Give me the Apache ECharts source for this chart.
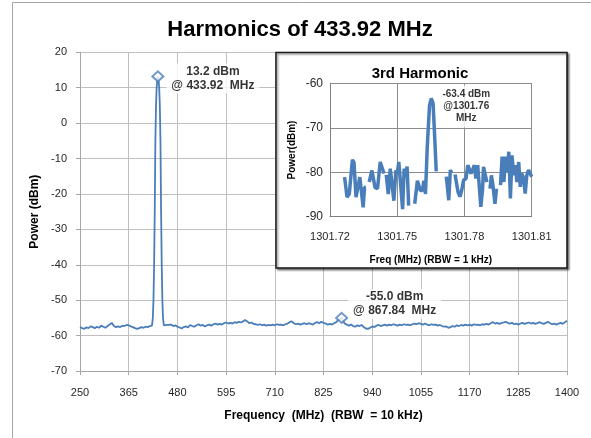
<!DOCTYPE html>
<html>
<head>
<meta charset="utf-8">
<script src="https://cdn.jsdelivr.net/npm/echarts@6/dist/echarts.min.js"></script>
<style>
html,body{margin:0;padding:0;background:#fff;}
#c{width:591px;height:438px;}
</style>
</head>
<body>
<div id="c"></div>
<script>
// ---- Main spectrum (250 - 1400 MHz, RBW 10 kHz) ----
const mainFreq = [250,255,260,265,270,275,280,285,290,295,300,305,310,315,320,325,330,335,340,345,350,355,360,365,370,375,380,385,390,395,400,405,410,415,420,422,423.5,425,426.5,428,429.5,431,432.5,433.92,435.5,437,438.5,440,441.5,443,444.5,446,448,452,456,460,465,470,475,480,485,490,495,500,505,510,515,520,525,530,535,540,545,550,555,560,565,570,575,580,585,590,595,600,605,610,615,620,625,630,635,640,645,650,655,660,665,670,675,680,685,690,695,700,705,710,715,720,725,730,735,740,745,750,755,760,765,770,775,780,785,790,795,800,805,810,815,820,825,830,835,840,845,850,855,860,864,867.84,871,875,880,885,890,895,900,905,910,915,920,925,930,935,940,945,950,955,960,965,970,975,980,985,990,995,1000,1005,1010,1015,1020,1025,1030,1035,1040,1045,1050,1055,1060,1065,1070,1075,1080,1085,1090,1095,1100,1105,1110,1115,1120,1125,1130,1135,1140,1145,1150,1155,1160,1165,1170,1175,1180,1185,1190,1195,1200,1205,1210,1215,1220,1225,1230,1235,1240,1245,1250,1255,1260,1265,1270,1275,1280,1285,1290,1295,1300,1305,1310,1315,1320,1325,1330,1335,1340,1345,1350,1355,1360,1365,1370,1375,1380,1385,1390,1395,1400];
const mainPower = [-57.6,-57.9,-58.1,-57.7,-57.9,-57.4,-57.6,-57.9,-57.5,-57.8,-57.2,-57.5,-57.8,-57.3,-56.9,-56.4,-57.3,-57.6,-57.4,-57.6,-57.2,-57.3,-57.0,-57.1,-57.4,-57.6,-57.9,-58.1,-57.9,-57.6,-57.8,-57.5,-57.6,-57.3,-57.2,-55,-50,-40,-25,-5,5,10,12.5,13.2,12.5,10,5,-5,-25,-40,-50,-55,-57.1,-57.4,-57.0,-56.6,-56.9,-57.3,-57.1,-57.5,-57.7,-58.0,-57.6,-57.4,-57.7,-57.0,-57.3,-57.5,-57.1,-56.8,-57.2,-57.0,-57.4,-57.1,-56.9,-57.2,-56.8,-56.6,-56.9,-56.7,-56.9,-56.5,-56.3,-56.6,-56.4,-56.6,-56.2,-56.4,-56.1,-56.3,-56.0,-55.6,-56.0,-56.5,-56.3,-56.7,-56.8,-57.0,-56.8,-57.1,-56.9,-57.2,-57.0,-57.1,-56.9,-57.1,-56.8,-57.0,-56.9,-57.1,-56.8,-56.6,-56.2,-56.0,-56.5,-56.8,-56.6,-56.9,-56.7,-56.5,-56.8,-56.5,-56.7,-56.9,-56.4,-56.2,-56.5,-56.1,-56.4,-56.6,-56.9,-56.7,-56.9,-56.5,-56.2,-55.6,-55.2,-55.0,-55.8,-56.6,-56.9,-57.2,-56.9,-57.3,-57.5,-57.1,-57.3,-57.0,-57.6,-58.0,-58.1,-57.8,-57.4,-57.6,-57.2,-57.0,-57.3,-57.1,-56.9,-57.2,-56.9,-57.1,-56.8,-57.0,-57.2,-56.9,-57.1,-56.8,-57.0,-56.9,-57.1,-56.8,-56.6,-56.8,-56.5,-56.7,-56.9,-56.6,-56.9,-57.1,-56.8,-57.0,-56.9,-57.2,-57.0,-57.3,-57.5,-57.4,-57.8,-57.6,-57.3,-57.5,-57.1,-57.3,-57.0,-57.2,-56.9,-57.1,-56.9,-57.2,-56.8,-57.0,-56.9,-57.1,-56.8,-56.9,-56.7,-56.9,-56.5,-56.2,-56.6,-56.4,-56.7,-56.5,-56.3,-56.1,-56.4,-56.6,-56.4,-56.8,-56.6,-56.9,-56.6,-56.4,-56.7,-56.5,-56.3,-56.6,-56.4,-56.7,-56.5,-56.2,-56.5,-56.7,-56.4,-56.1,-56.5,-56.8,-56.6,-56.9,-56.6,-56.4,-56.7,-56.2,-55.8];

// fundamental and 2nd harmonic markers
const markerFreq = [433.92, 867.84];
const markerPower = [13.2, -55.0];

// main axis ticks
const mainXTicks = [250,365,480,595,710,825,940,1055,1170,1285,1400];
const mainYTicks = [-70,-60,-50,-40,-30,-20,-10,0,10,20];

// ---- Inset: 3rd harmonic (RBW 1 kHz) ----
const insetFreq = [1301.7265,1301.7276,1301.7286,1301.7300,1301.7307,1301.7316,1301.7324,1301.7333,1301.7340,1301.7348,1301.7354,1301.7360,1301.7368,
  1301.7375,1301.7387,1301.7394,1301.7401,1301.7412,1301.7424,1301.7431,1301.7441,1301.7446,
  1301.7451,1301.7460,1301.7469,1301.7477,1301.7485,1301.7494,1301.7500,1301.7507,1301.7515,1301.7524,1301.7531,1301.7537,1301.7544,1301.7551,1301.7565,
  1301.7578,1301.7590,1301.7597,1301.7603,1301.7612,1301.7619,1301.7626,1301.7634,1301.7644,1301.7652,1301.7660,1301.7667,1301.7674,1301.7695,
  1301.7719,1301.7730,1301.7737,1301.7743,1301.7750,
  1301.7758,1301.7771,1301.7780,1301.7788,1301.7796,1301.7807,1301.7815,1301.7822,1301.7829,1301.7836,1301.7844,1301.7851,1301.7859,1301.7866,1301.7873,1301.7881,1301.7885,1301.7892,1301.7900,1301.7907,
  1301.7914,1301.7920,1301.7927,1301.7936,1301.7943,1301.7952,
  1301.7961,1301.7968,1301.7976,1301.7983,1301.7990,1301.7998,1301.8005,1301.8012,1301.8020,1301.8027,1301.8034,1301.8042,1301.8049,1301.8056,1301.8064,1301.8071,1301.8078,1301.8086,1301.8093,1301.8100];
const insetPower = [-81.1,-85.6,-84.9,-77.2,-77.8,-85.6,-86.0,-81.1,-81.5,-87.9,-83.4,-83.4,null,
  -82.2,-79.6,-79.2,-83.4,-83.7,-77.7,-77.8,-80.3,null,
  -80.6,-84.9,-79.2,-79.6,-86.4,-79.6,-80.3,-77.7,-78.0,-88.3,-79.2,-81.1,-78.7,-87.5,null,
  -87.1,-81.9,-81.8,-84.1,-84.1,-81.9,-84.9,-74.3,-65.0,-63.4,-64.5,-72.0,-79.8,null,
  -81.0,-86.3,-79.5,-80.2,null,
  -80.5,-84.4,-85.5,-84.0,-81.8,-81.4,-78.4,-78.8,-80.3,-79.5,-78.4,-81.4,-78.4,-78.0,-87.8,-83.7,-78.8,-79.2,-82.2,null,
  -83.7,-80.7,-82.9,-87.1,-83.7,null,
  -82.9,-76.5,-82.2,-76.5,-79.9,-75.4,-85.9,-76.2,-80.7,-78.4,-82.2,-77.7,-83.3,-80.3,-81.4,-84.8,-80.7,-79.5,-79.9,-81.0];

const insetPeakFreq = 1301.7652;
const insetPeakPower = -63.4;
const insetPeakLabelFreq = '1301.76';

const insetXTicks = [1301.72,1301.75,1301.78,1301.81];
const insetYTicks = [-90,-80,-70,-60];

// ---- build chart ----
const FONT = '"Liberation Sans", Arial, sans-serif';
const chart = echarts.init(document.getElementById('c'), null, {renderer: 'canvas'});

const markerLabelOffsets = [[55, 2], [53, -14]];

const option = {
  animation: false,
  backgroundColor: '#fff',
  textStyle: {fontFamily: FONT},
  graphic: [
    {type: 'rect', z: 1, silent: true,
     shape: {x: 12.5, y: 2.5, width: 620, height: 520},
     style: {fill: 'none', stroke: '#a6a6a6', lineWidth: 1}},
    {type: 'text', z: 1, silent: true, x: 300, y: 30,
     style: {text: 'Harmonics of 433.92 MHz', font: 'bold 22px ' + FONT, fill: '#000',
             textAlign: 'center', textVerticalAlign: 'middle'}},
    {type: 'rect', z: 20, silent: true,
     shape: {x: 276, y: 52.5, width: 291, height: 215.5},
     style: {fill: '#fff', stroke: '#1a1a1a', lineWidth: 1.5,
             shadowBlur: 2, shadowOffsetX: 1.5, shadowOffsetY: 1.5, shadowColor: 'rgba(0,0,0,0.45)'}},
    {type: 'text', z: 21, silent: true, x: 420, y: 74,
     style: {text: '3rd Harmonic', font: 'bold 15px ' + FONT, fill: '#000',
             textAlign: 'center', textVerticalAlign: 'middle'}}
  ],
  grid: [
    {left: 80, top: 52.3, width: 487, height: 318.7},
    {left: 330, top: 83.3, width: 201.7, height: 133.4}
  ],
  xAxis: [
    {type: 'value', gridIndex: 0, min: 250, max: 1400, interval: 115, z: 0,
     name: 'Frequency  (MHz)  (RBW  = 10 kHz)', nameLocation: 'middle', nameGap: 39,
     nameTextStyle: {fontSize: 12, fontWeight: 'bold', color: '#000', fontFamily: FONT},
     axisLine: {show: true, onZero: false, lineStyle: {color: '#a6a6a6', width: 1}},
     axisTick: {show: true, length: 4, inside: false, customValues: mainXTicks, lineStyle: {color: '#a6a6a6'}},
     axisLabel: {fontSize: 11, color: '#262626', margin: 16, customValues: mainXTicks, fontFamily: FONT,
                 formatter: v => String(v), showMinLabel: true, showMaxLabel: true},
     splitLine: {show: true, lineStyle: {color: '#bfbfbf', width: 1}}},
    {type: 'value', gridIndex: 1, min: 1301.72, max: 1301.81, interval: 0.03, z: 22,
     name: 'Freq (MHz) (RBW = 1 kHz)', nameLocation: 'middle', nameGap: 39,
     nameTextStyle: {fontSize: 10, fontWeight: 'bold', color: '#000', fontFamily: FONT},
     axisLine: {show: true, onZero: false, lineStyle: {color: '#7f7f7f', width: 1}},
     axisTick: {show: false, customValues: insetXTicks},
     axisLabel: {fontSize: 11, color: '#262626', margin: 15, customValues: insetXTicks, fontFamily: FONT,
                 formatter: v => v.toFixed(2), showMinLabel: true, showMaxLabel: true},
     splitLine: {show: true, lineStyle: {color: '#8c8c8c', width: 1}}}
  ],
  yAxis: [
    {type: 'value', gridIndex: 0, min: -70, max: 20, interval: 10, z: 0,
     name: 'Power (dBm)', nameLocation: 'middle', nameGap: 39,
     nameTextStyle: {fontSize: 12, fontWeight: 'bold', color: '#000', fontFamily: FONT},
     axisLine: {show: true, onZero: false, lineStyle: {color: '#a6a6a6', width: 1}},
     axisTick: {show: true, length: 4, customValues: mainYTicks, lineStyle: {color: '#a6a6a6'}},
     axisLabel: {fontSize: 11, color: '#262626', margin: 13, customValues: mainYTicks, fontFamily: FONT,
                 formatter: v => String(v)},
     splitLine: {show: true, lineStyle: {color: '#bfbfbf', width: 1}}},
    {type: 'value', gridIndex: 1, min: -90, max: -60, interval: 10, z: 22,
     name: 'Power(dBm)', nameLocation: 'middle', nameGap: 33,
     nameTextStyle: {fontSize: 10, fontWeight: 'bold', color: '#000', fontFamily: FONT},
     axisLine: {show: true, onZero: false, lineStyle: {color: '#7f7f7f', width: 1}},
     axisTick: {show: false, customValues: insetYTicks},
     axisLabel: {fontSize: 12, color: '#262626', margin: 7, customValues: insetYTicks, fontFamily: FONT,
                 formatter: v => String(v)},
     splitLine: {show: true, lineStyle: {color: '#8c8c8c', width: 1}}}
  ],
  series: [
    {type: 'line', xAxisIndex: 0, yAxisIndex: 0, z: 2,
     data: mainFreq.map((f, i) => [f, mainPower[i]]),
     showSymbol: false, symbol: 'none',
     lineStyle: {color: '#4a7ebb', width: 1.8}},
    {type: 'scatter', xAxisIndex: 0, yAxisIndex: 0, z: 3,
     symbol: 'emptyDiamond', symbolSize: [11, 10],
     itemStyle: {color: '#4a7ebb', borderColor: '#4a7ebb', borderWidth: 1.5},
     data: markerFreq.map((f, i) => ({
       value: [f, markerPower[i]],
       label: {offset: markerLabelOffsets[i]}
     })),
     label: {show: true, position: 'inside', fontSize: 12, fontWeight: 'bold', color: '#000',
             fontFamily: FONT, lineHeight: 14, align: 'center', verticalAlign: 'middle',
             backgroundColor: '#fff', padding: [1, 5, 1, 5],
             formatter: p => markerPower[p.dataIndex].toFixed(1) + ' dBm\n@ ' + markerFreq[p.dataIndex].toFixed(2) + '  MHz'}},
    {type: 'line', xAxisIndex: 1, yAxisIndex: 1, z: 25,
     data: insetFreq.map((f, i) => [f, insetPower[i] == null ? '-' : insetPower[i]]),
     showSymbol: false, symbol: 'none', connectNulls: false,
     lineStyle: {color: '#4a7ebb', width: 3.5}},
    {type: 'scatter', xAxisIndex: 1, yAxisIndex: 1, z: 26,
     symbol: 'circle', symbolSize: 1, itemStyle: {color: 'rgba(0,0,0,0)'},
     data: [[insetPeakFreq, insetPeakPower]],
     label: {show: true, position: 'inside', offset: [35, 8], fontSize: 10, fontWeight: 'bold', color: '#000',
             fontFamily: FONT, lineHeight: 12, align: 'center', verticalAlign: 'middle',
             backgroundColor: '#fff', padding: [3, 4, 3, 4],
             formatter: () => insetPeakPower.toFixed(1) + ' dBm\n@' + insetPeakLabelFreq + '\nMHz'}}
  ]
};
chart.setOption(option);
</script>
</body>
</html>
